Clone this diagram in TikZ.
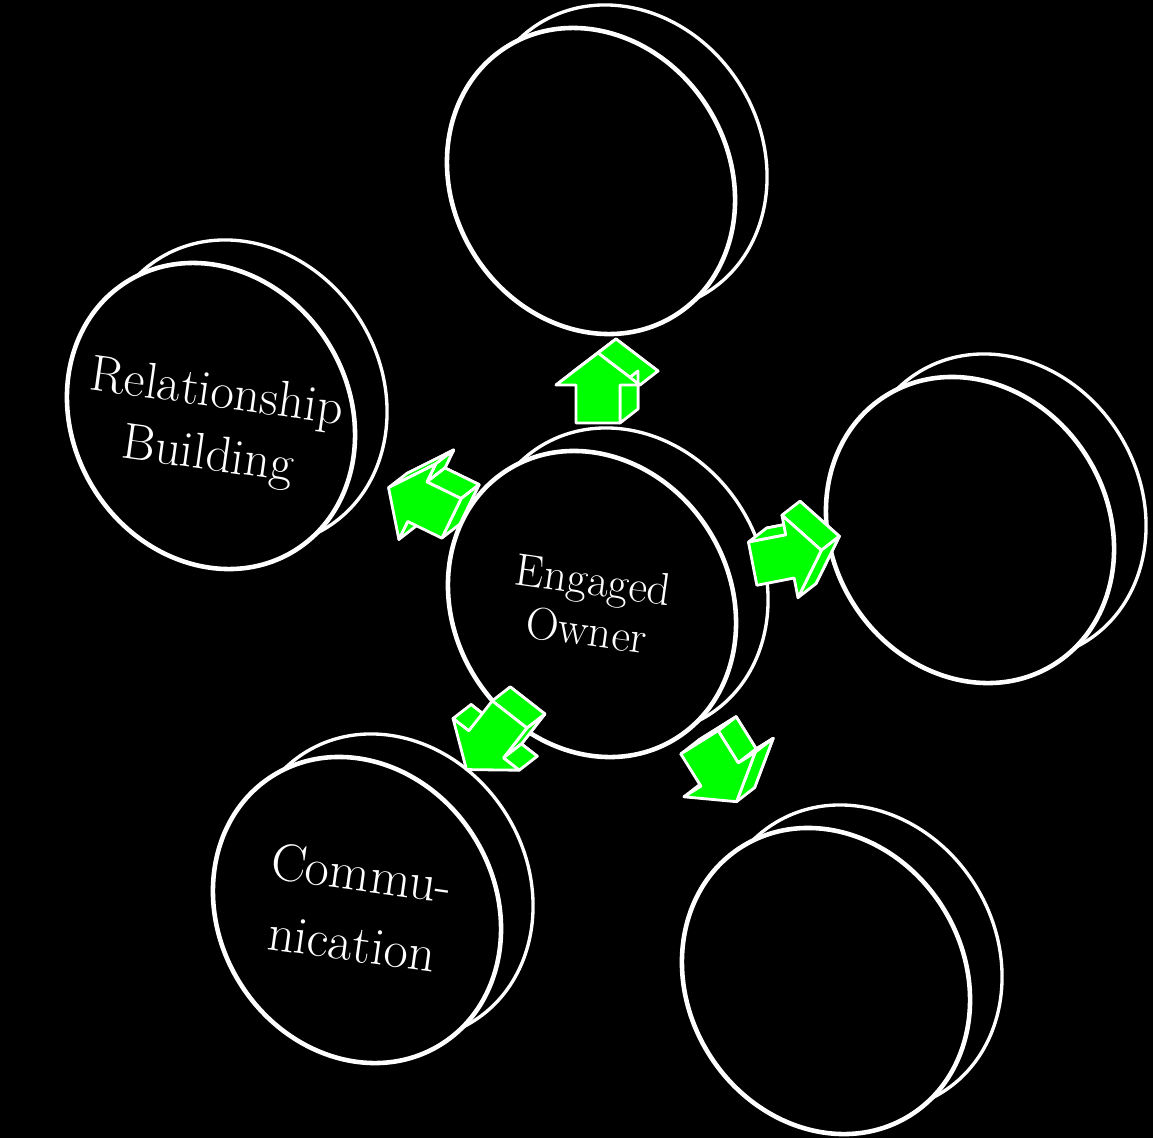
\documentclass[tikz,border=0pt]{standalone}
\usepackage{tikz}
\usetikzlibrary{calc}

\tikzset{
  frontrim/.style={draw=white, line width=2.6pt, fill=black},
  backrim/.style={draw=white, line width=1.9pt, fill=black},
  arrowface/.style={draw=white, line width=1.6pt, fill=green, line join=round},
  disclabel/.style={text=white, align=center, rotate=-8, inner sep=0pt}
}

% disc: name, front centre
\newcommand{\drawdisc}[2]{%
  \coordinate (#1) at #2;
  \coordinate (#1-back) at ($(#1)+(32,-23)$);
  \draw[backrim, rotate around={-58:(#1-back)}] (#1-back) ellipse [x radius=158.5, y radius=138];
  \draw[frontrim, rotate around={-58:(#1)}] (#1) ellipse [x radius=158.5, y radius=138];
}

% block arrow: name, centre, direction
\newcommand{\blockarrow}[3]{%
  \begin{scope}[shift={#2}, rotate=#3]
    \foreach \px/\py [count=\i] in {-35/-22, 3/-22, 3/-42, 35/0, 3/42, 3/22, -35/22}
      \coordinate (#1f\i) at (\px,\py);
  \end{scope}
  \foreach \i in {1,...,7}
    \coordinate (#1b\i) at ($(#1f\i)+(18,-14)$);
  \filldraw[arrowface] (#1b1) \foreach \i in {2,...,7} {-- (#1b\i)} -- cycle;
  \foreach \i/\j/\n in {1/2/90, 2/3/180, 3/4/37.3, 4/5/-37.3, 5/6/180, 6/7/-90, 7/1/180} {
    \pgfmathtruncatemacro\vis{cos(\n+#3-38)>0}
    \ifnum\vis=1
      \filldraw[arrowface] (#1f\i) -- (#1f\j) -- (#1b\j) -- (#1b\i) -- cycle;
    \fi
  }
  \filldraw[arrowface] (#1f1) \foreach \i in {2,...,7} {-- (#1f\i)} -- cycle;
}

\begin{document}
\begin{tikzpicture}[x=0.02cm, y=-0.02cm]
  \fill[black] (0,0) rectangle (1153,1138);
  \useasboundingbox (0,0) rectangle (1153,1138);

  % discs
  \drawdisc{d-top}{(591,181)}
  \drawdisc{d-rel}{(211,416)}
  \drawdisc{d-right}{(970,530)}
  \drawdisc{d-comm}{(357,910)}
  \drawdisc{d-br}{(826,981)}
  \drawdisc{d-own}{(592,604)}

  % arrows out of the centre
  \blockarrow{a-top}{(598,388)}{90}
  \blockarrow{a-rel}{(420,503)}{154}
  \blockarrow{a-right}{(787,557)}{11}
  \blockarrow{a-comm}{(488,742)}{232}
  \blockarrow{a-br}{(718,772)}{-58}

  % labels
  \node[disclabel, font=\fontsize{26}{29}\selectfont] (own-text) at (590,605) {Engaged\\Owner};
  \node[disclabel, font=\fontsize{29}{36}\selectfont] (rel-text) at (212,426) {Relationship\\Building};
  \node[disclabel, font=\fontsize{30}{40}\selectfont] (comm-text) at (357,908) {Commu-\\nication};
\end{tikzpicture}
\end{document}
